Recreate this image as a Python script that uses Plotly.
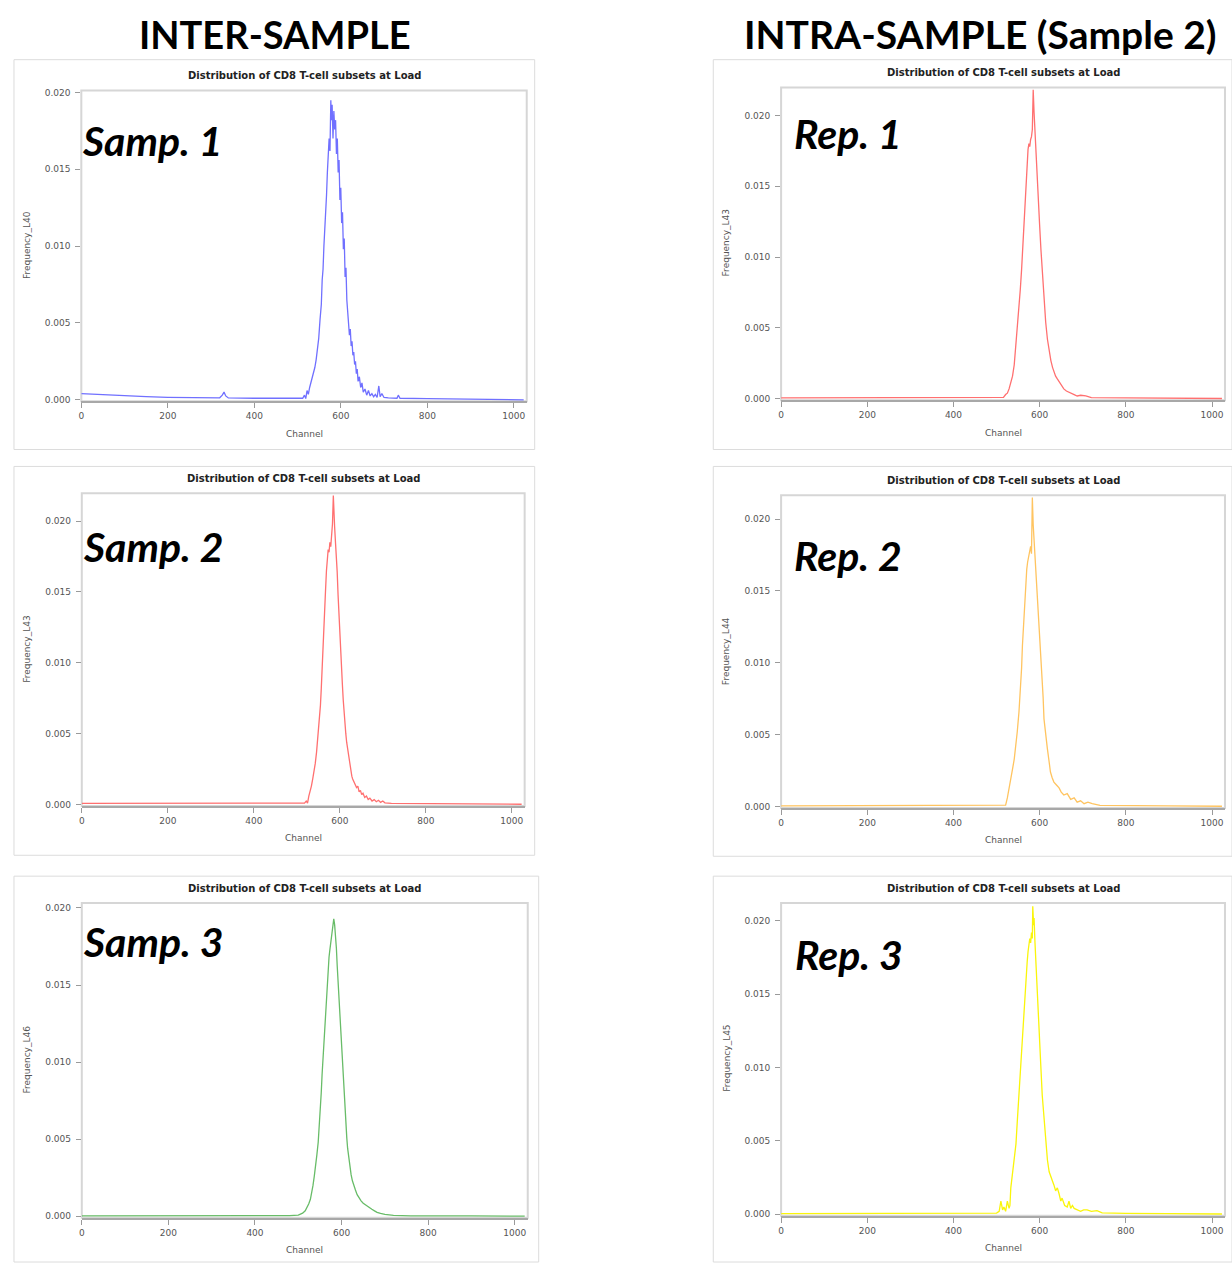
import plotly.graph_objects as go

W, H = 1232, 1266

# ---------------- data ----------------
p1_ch = [0, 50, 100, 150, 200, 250, 300, 320, 326, 330, 334, 340, 400, 450, 500, 512, 516, 519, 522, 525,
         528, 531, 534, 537, 540, 543, 546, 549, 552, 555, 557, 559, 561, 563, 565, 567, 569, 571, 573, 575,
         577, 578, 580, 582, 584, 586, 588, 590, 592, 594, 596, 598, 600, 602, 604, 606, 608, 610, 612, 614,
         616, 618, 620, 622, 624, 626, 628, 630, 632, 634, 636, 638, 640, 643, 646, 649, 652, 656, 660, 664,
         668, 672, 676, 680, 684, 688, 691, 695, 700, 710, 730, 733, 737, 800, 900, 1000, 1023]
p1_fr = [0.00040, 0.00032, 0.00025, 0.00020, 0.00016, 0.00014, 0.00012, 0.00013, 0.00030, 0.00050, 0.00025,
         0.00012, 0.00010, 0.00009, 0.00009, 0.00010, 0.00030, 0.00008, 0.00060, 0.00035,
         0.00080, 0.00110, 0.00150, 0.00170, 0.00210, 0.00260, 0.00320, 0.00400, 0.00520, 0.00620,
         0.00780, 0.00850, 0.01000, 0.01090, 0.01220, 0.01330, 0.01480, 0.01560, 0.01700, 0.01620,
         0.01950, 0.01820, 0.01920, 0.01700, 0.01880, 0.01760, 0.01820, 0.01600, 0.01700, 0.01480,
         0.01560, 0.01300, 0.01380, 0.01150, 0.01220, 0.00980, 0.01050, 0.00800, 0.00860, 0.00650,
         0.00560, 0.00500, 0.00420, 0.00460, 0.00350, 0.00380, 0.00290, 0.00310, 0.00230, 0.00250,
         0.00170, 0.00200, 0.00120, 0.00150, 0.00080, 0.00110, 0.00050, 0.00070, 0.00030, 0.00060,
         0.00025, 0.00040, 0.00020, 0.00035, 0.00015, 0.00090, 0.00020, 0.00040, 0.00015, 0.00012,
         0.00010, 0.00030, 0.00010, 0.00008, 0.00005, 0.00002, 0.00000]

p2_ch = [0, 200, 400, 500, 518, 522, 525, 528, 531, 534, 537, 540, 543, 546, 549, 552, 555, 557, 559, 561,
         563, 565, 567, 569, 571, 573, 575, 577, 579, 581, 583, 585, 586, 588, 590, 592, 594, 596, 598, 600,
         602, 604, 606, 608, 610, 612, 614, 616, 618, 620, 622, 624, 626, 628, 630, 633, 636, 639, 642, 645,
         648, 651, 654, 658, 662, 666, 670, 675, 680, 685, 690, 695, 700, 705, 720, 800, 900, 1023]
p2_fr = [0.00008, 0.00010, 0.00009, 0.00008, 0.00010, 0.00025, 0.00010, 0.00060, 0.00090, 0.00130,
         0.00180, 0.00230, 0.00290, 0.00370, 0.00470, 0.00580, 0.00700, 0.00820, 0.00940, 0.01100,
         0.01250, 0.01400, 0.01520, 0.01650, 0.01720, 0.01800, 0.01780, 0.01850, 0.01820, 0.01920,
         0.01980, 0.02180, 0.02020, 0.01960, 0.01850, 0.01760, 0.01640, 0.01480, 0.01330, 0.01200,
         0.01080, 0.00960, 0.00850, 0.00740, 0.00640, 0.00570, 0.00500, 0.00440, 0.00400, 0.00350,
         0.00300, 0.00260, 0.00230, 0.00200, 0.00180, 0.00160, 0.00140, 0.00120, 0.00130, 0.00090,
         0.00100, 0.00070, 0.00080, 0.00050, 0.00060, 0.00035, 0.00045, 0.00025, 0.00035, 0.00020,
         0.00030, 0.00015, 0.00025, 0.00012, 0.00008, 0.00006, 0.00004, 0.00002]

p3_ch = [0, 200, 400, 480, 500, 510, 516, 520, 524, 528, 531, 534, 537, 540, 543, 546, 549, 551, 553, 555,
         557, 559, 561, 563, 565, 567, 569, 571, 573, 575, 577, 579, 581, 582, 584, 586, 588, 590, 592, 594,
         596, 598, 600, 602, 604, 606, 608, 610, 612, 614, 616, 619, 622, 625, 628, 632, 636, 640, 645, 650,
         655, 660, 665, 670, 676, 682, 690, 700, 720, 760, 900, 1023]
p3_fr = [0.00003, 0.00003, 0.00003, 0.00004, 0.00008, 0.00020, 0.00035, 0.00055, 0.00080, 0.00110,
         0.00150, 0.00200, 0.00260, 0.00320, 0.00400, 0.00480, 0.00600, 0.00700, 0.00800, 0.00920,
         0.01020, 0.01130, 0.01230, 0.01340, 0.01440, 0.01530, 0.01600, 0.01680, 0.01730, 0.01770,
         0.01820, 0.01860, 0.01900, 0.01930, 0.01890, 0.01830, 0.01740, 0.01620, 0.01520, 0.01390,
         0.01270, 0.01150, 0.01050, 0.00950, 0.00850, 0.00750, 0.00670, 0.00590, 0.00510, 0.00440,
         0.00390, 0.00320, 0.00270, 0.00230, 0.00200, 0.00170, 0.00140, 0.00120, 0.00100, 0.00085,
         0.00075, 0.00060, 0.00055, 0.00045, 0.00035, 0.00025, 0.00018, 0.00012, 0.00006, 0.00003,
         0.00002, 0.00001]

p4_ch = [0, 200, 400, 500, 516, 521, 525, 529, 533, 537, 541, 544, 548, 552, 555, 558, 561, 564, 567, 569,
         571, 573, 575, 577, 579, 581, 583, 585, 587, 589, 591, 593, 595, 597, 600, 603, 606, 610, 614, 618,
         622, 626, 630, 633, 637, 641, 645, 650, 656, 662, 668, 672, 680, 687, 695, 707, 720, 800, 900, 1023]
p4_fr = [0.00006, 0.00008, 0.00008, 0.00008, 0.00010, 0.00030, 0.00040, 0.00070, 0.00110, 0.00160,
         0.00240, 0.00350, 0.00480, 0.00630, 0.00770, 0.00910, 0.01100, 0.01290, 0.01480, 0.01590,
         0.01700, 0.01760, 0.01800, 0.01780, 0.01830, 0.01850, 0.01900, 0.02180, 0.02020, 0.01880,
         0.01760, 0.01650, 0.01520, 0.01400, 0.01220, 0.01050, 0.00890, 0.00700, 0.00540, 0.00420,
         0.00330, 0.00270, 0.00220, 0.00190, 0.00160, 0.00140, 0.00120, 0.00090, 0.00070, 0.00055,
         0.00045, 0.00040, 0.00030, 0.00020, 0.00025, 0.00020, 0.00008, 0.00006, 0.00004, 0.00002]

p5_ch = [0, 200, 400, 500, 518, 521, 525, 529, 533, 537, 541, 545, 548, 552, 555, 558, 560, 563, 566, 568,
         570, 572, 575, 577, 579, 581, 583, 585, 588, 590, 593, 596, 598, 601, 605, 608, 610, 614, 618, 622,
         625, 629, 633, 639, 645, 650, 656, 664, 672, 680, 687, 695, 703, 712, 722, 740, 800, 900, 1023]
p5_fr = [0.00005, 0.00006, 0.00006, 0.00006, 0.00008, 0.00010, 0.00060, 0.00120, 0.00200, 0.00260,
         0.00330, 0.00420, 0.00520, 0.00660, 0.00800, 0.00960, 0.01120, 0.01290, 0.01440, 0.01560,
         0.01650, 0.01700, 0.01740, 0.01760, 0.01810, 0.01760, 0.02150, 0.01960, 0.01810, 0.01720,
         0.01580, 0.01430, 0.01280, 0.01130, 0.00940, 0.00760, 0.00610, 0.00480, 0.00400, 0.00310,
         0.00240, 0.00200, 0.00170, 0.00150, 0.00130, 0.00100, 0.00080, 0.00090, 0.00050, 0.00060,
         0.00030, 0.00040, 0.00020, 0.00030, 0.00020, 0.00008, 0.00005, 0.00004, 0.00002]

p6_ch = [0, 200, 400, 500, 506, 510, 514, 517, 521, 525, 529, 531, 533, 537, 541, 545, 548, 552, 556, 559,
         561, 564, 568, 571, 573, 575, 577, 579, 581, 583, 584, 586, 587, 589, 591, 593, 595, 598, 600, 603,
         606, 610, 614, 618, 622, 626, 629, 633, 637, 641, 645, 649, 652, 658, 664, 668, 672, 676, 680, 688,
         695, 702, 710, 720, 733, 745, 800, 900, 1023]
p6_fr = [0.00005, 0.00006, 0.00006, 0.00008, 0.00020, 0.00090, 0.00030, 0.00050, 0.00020, 0.00090,
         0.00040, 0.00060, 0.00180, 0.00270, 0.00360, 0.00480, 0.00630, 0.00820, 0.00990, 0.01180,
         0.01310, 0.01450, 0.01580, 0.01720, 0.01790, 0.01830, 0.01880, 0.01850, 0.01920, 0.01880,
         0.02100, 0.01970, 0.02020, 0.01860, 0.01720, 0.01610, 0.01490, 0.01320, 0.01170, 0.00990,
         0.00810, 0.00640, 0.00470, 0.00370, 0.00290, 0.00260, 0.00230, 0.00200, 0.00160, 0.00180,
         0.00140, 0.00090, 0.00110, 0.00060, 0.00050, 0.00090, 0.00040, 0.00060, 0.00040, 0.00030,
         0.00020, 0.00030, 0.00030, 0.00020, 0.00025, 0.00010, 0.00006, 0.00004, 0.00002]

x_ticks = [0, 200, 400, 600, 800, 1000]
y_ticks = [0.000, 0.005, 0.010, 0.015, 0.020]
y_tick_text = ["0.000", "0.005", "0.010", "0.015", "0.020"]

panel_names = ["Samp. 1", "Samp. 2", "Samp. 3", "Rep. 1", "Rep. 2", "Rep. 3"]
y_labels = ["Frequency_L40", "Frequency_L43", "Frequency_L46", "Frequency_L43", "Frequency_L44", "Frequency_L45"]
chart_title = "Distribution of CD8 T-cell subsets at Load"
x_label = "Channel"
headers = ["INTER-SAMPLE", "INTRA-SAMPLE (Sample 2)"]

series_x = [p1_ch, p2_ch, p3_ch, p4_ch, p5_ch, p6_ch]
series_y = [p1_fr, p2_fr, p3_fr, p4_fr, p5_fr, p6_fr]

# ---------------- layout (pixel geometry) ----------------
line_colors = ["rgb(112,112,255)", "rgb(255,112,112)", "rgb(104,188,104)",
               "rgb(255,112,112)", "rgb(255,196,96)", "rgb(250,245,10)"]

# x0: channel 0 px, x1000: channel 1000 px, top: frame top, y0: value 0 px, y20: value 0.020 px
geom = [
    dict(x0=78.5, x1000=512, top=88, y0=399, y20=90, box=(11, 57, 533, 449)),
    dict(x0=79, x1000=510, top=493, y0=806, y20=521, box=(11, 466, 533, 857)),
    dict(x0=79, x1000=513, top=905, y0=1220, y20=910, box=(11, 878, 537, 1266)),
    dict(x0=780, x1000=1212, top=85, y0=398, y20=113, box=(712, 57, 1232, 449)),
    dict(x0=780, x1000=1212, top=495, y0=808, y20=519, box=(712, 466, 1232, 858)),
    dict(x0=780, x1000=1212, top=905, y0=1218, y20=923, box=(712, 878, 1232, 1266)),
]
label_pos = [(77, 138), (78, 547), (78, 944), (791, 131), (791, 556), (792, 957)]
XMAX = 1030

def px(x):
    return x / W

def py(y):
    return 1 - y / H

fig = go.Figure()
shapes = []
annotations = []

for i, g in enumerate(geom):
    n = "" if i == 0 else str(i + 1)
    xa, ya = "x" + n, "y" + n
    sx = (g["x1000"] - g["x0"]) / 1000.0
    right = g["x0"] + XMAX * sx
    k = (g["y0"] - g["y20"]) / 0.020
    bottom = g["y0"] + 1.5
    y_lo = (g["y0"] - bottom) / k
    y_hi = (g["y0"] - g["top"]) / k

    fig.add_trace(go.Scatter(x=series_x[i], y=series_y[i], mode="lines",
                             line=dict(color=line_colors[i], width=1.3),
                             xaxis=xa, yaxis=ya, showlegend=False, hoverinfo="skip"))

    fig.layout["xaxis" + n] = dict(
        domain=[px(g["x0"]), px(right)], range=[0, XMAX], anchor=ya,
        tickvals=x_ticks, ticks="outside", ticklen=5, tickcolor="#9a9a9a",
        showgrid=False, zeroline=False, showline=True, linecolor="#a8a8a8", linewidth=2,
        tickfont=dict(family="DejaVu Sans", size=9, color="#555555"), fixedrange=True)
    fig.layout["yaxis" + n] = dict(
        domain=[py(bottom), py(g["top"])], range=[y_lo, y_hi], anchor=xa,
        tickvals=y_ticks, ticktext=y_tick_text, ticks="outside", ticklen=5, tickcolor="#9a9a9a",
        ticklabelstandoff=3,
        showgrid=False, zeroline=False, showline=False,
        tickfont=dict(family="DejaVu Sans", size=9, color="#555555"), fixedrange=True)

    # plot frame
    shapes.append(dict(type="rect", xref=xa + " domain", yref=ya + " domain", x0=0, x1=1, y0=0, y1=1,
                       line=dict(color="#d6d6d6", width=2), layer="below"))
    # outer panel box
    bx0, by0, bx1, by1 = g["box"]
    shapes.append(dict(type="rect", xref="paper", yref="paper", x0=px(bx0), x1=px(bx1),
                       y0=py(by1), y1=py(by0), line=dict(color="#dcdcdc", width=1), layer="below"))

    cx = (g["x0"] + right) / 2
    annotations.append(dict(text="<b>" + chart_title + "</b>", x=px(cx), y=py(g["top"] - 15),
                            xref="paper", yref="paper", showarrow=False, xanchor="center", yanchor="middle",
                            font=dict(family="DejaVu Sans", size=10, color="#222222")))
    annotations.append(dict(text=x_label, x=px(cx), y=py(g["y0"] + 34), xref="paper", yref="paper",
                            showarrow=False, xanchor="center", yanchor="middle",
                            font=dict(family="DejaVu Sans", size=9, color="#555555")))
    annotations.append(dict(text=y_labels[i], x=px(bx0 + 13), y=py((g["top"] + g["y0"]) / 2),
                            xref="paper", yref="paper", showarrow=False, textangle=-90,
                            xanchor="center", yanchor="middle",
                            font=dict(family="DejaVu Sans", size=9, color="#555555")))
    lx, ly = label_pos[i]
    annotations.append(dict(text="<b><i>" + panel_names[i] + "</i></b>", x=px(lx), y=py(ly),
                            xref="paper", yref="paper", showarrow=False, xanchor="left", yanchor="middle",
                            font=dict(family="Lato", size=41, color="#000000")))

annotations.append(dict(text="<b>" + headers[0] + "</b>", x=px(273), y=py(31), xref="paper", yref="paper",
                        showarrow=False, xanchor="center", yanchor="middle",
                        font=dict(family="Lato", size=38, color="#000000")))
annotations.append(dict(text="<b>" + headers[1] + "</b>", x=px(980), y=py(31), xref="paper", yref="paper",
                        showarrow=False, xanchor="center", yanchor="middle",
                        font=dict(family="Lato", size=39, color="#000000")))

fig.update_layout(width=W, height=H, margin=dict(l=0, r=0, t=0, b=0),
                  paper_bgcolor="white", plot_bgcolor="white",
                  shapes=shapes, annotations=annotations, showlegend=False)

fig.write_html("out.html", config={"displayModeBar": False})
